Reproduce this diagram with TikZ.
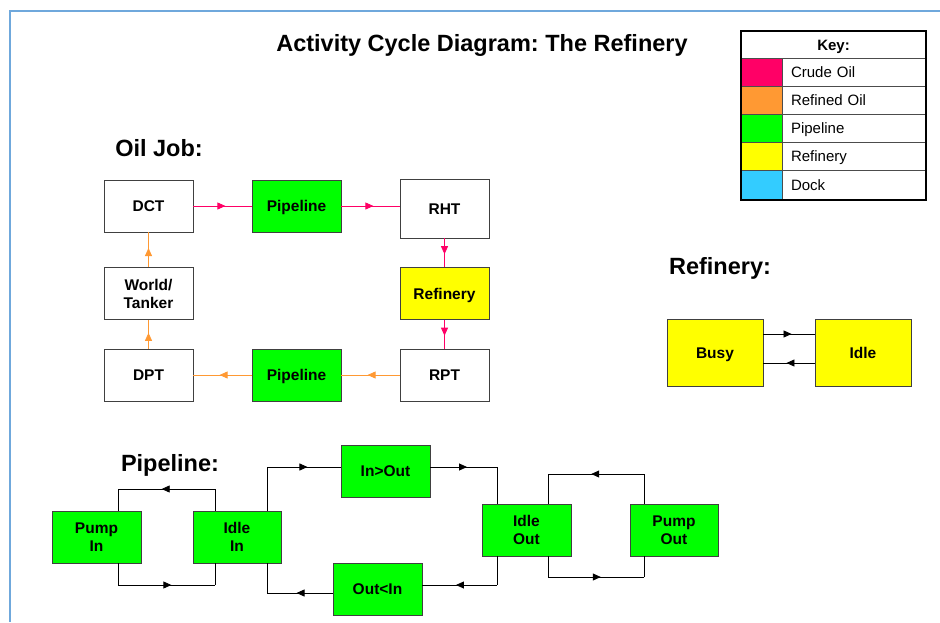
\documentclass[tikz,border=0pt]{standalone}
\usepackage{fontspec}
\setmainfont{Liberation Sans}
\frenchspacing
\usetikzlibrary{arrows.meta,decorations.markings}
\definecolor{crude}{HTML}{FF0066}
\definecolor{refined}{HTML}{FF9933}
\definecolor{pipe}{HTML}{00FF00}
\definecolor{refin}{HTML}{FFFF00}
\definecolor{dock}{HTML}{33CCFF}
\definecolor{frameblue}{HTML}{6FA8DC}
\tikzset{
  box/.style={draw=black!75, line width=0.8pt, font=\bfseries\fontsize{15.5}{18}\selectfont,
    align=center, inner sep=0pt, minimum width=89pt, minimum height=52pt},
  one/.style={text height=11pt, text depth=0pt},
  heading/.style={font=\bfseries\fontsize{23.5}{28}\selectfont, inner sep=0pt},
  conn/.style={line width=0.8pt},
  midarr/.style={postaction={decorate}, decoration={markings,
    mark=at position 0.55 with {\arrow{Triangle[length=8pt,width=7pt]}}}},
  swatch/.style={draw=black!70, line width=0.6pt, minimum width=41pt, minimum height=28pt, inner sep=0pt},
  keycell/.style={draw=black!70, line width=0.6pt, minimum height=28pt, text width=126pt,
    text height=11pt, text depth=0pt,
    inner xsep=9pt, inner ysep=0pt, align=left, font=\fontsize{15}{18}\selectfont},
}
\begin{document}
\begin{tikzpicture}[x=1pt,y=-1pt]
\useasboundingbox (0,0) rectangle (940,622);
% page frame
\coordinate (fr1) at (940,11);
\coordinate (fr2) at (10,11);
\coordinate (fr3) at (10,622);
\draw[frameblue, line width=1.5pt] (fr1) -- (fr2) -- (fr3);

% title and headings
\node[heading] (title) at (482,45) {Activity Cycle Diagram: The Refinery};
\node[heading] (hoil) at (159,148) {Oil Job:};
\node[heading] (href) at (720,268) {Refinery:};
\node[heading] (hpipe) at (170,465) {Pipeline:};

% key
\node[draw=black!70, line width=0.6pt, minimum width=185pt, minimum height=27pt, inner sep=0pt,
  text height=11pt, text depth=0pt,
  font=\bfseries\fontsize{15}{18}\selectfont] (khead) at (833.5,44.5) {Key:};
\node[swatch, fill=crude]   (s1) at (761.5,72)  {};
\node[swatch, fill=refined] (s2) at (761.5,100) {};
\node[swatch, fill=pipe]    (s3) at (761.5,128) {};
\node[swatch, fill=refin]   (s4) at (761.5,156) {};
\node[swatch, fill=dock, minimum height=30pt] (s5) at (761.5,185) {};
\node[keycell] (l1) at (854,72)  {Crude Oil};
\node[keycell] (l2) at (854,100) {Refined Oil};
\node[keycell] (l3) at (854,128) {Pipeline};
\node[keycell] (l4) at (854,156) {Refinery};
\node[keycell, minimum height=30pt] (l5) at (854,185) {Dock};
\node[draw=black, line width=2pt, minimum width=185pt, minimum height=169pt, inner sep=0pt] (keyframe) at (833.5,115.5) {};

% oil job
\node[box, one, fill=white] (dct)   at (148.5,206) {DCT};
\node[box, one, fill=pipe]  (pipe1) at (296.5,206) {Pipeline};
\node[box, one, fill=white, minimum height=59pt] (rht) at (444.5,208.5) {RHT};
\node[box, one, fill=refin] (refy)  at (444.5,293.5) {Refinery};
\node[box, one, fill=white] (rpt)   at (444.5,375) {RPT};
\node[box, one, fill=pipe]  (pipe2) at (296.5,375) {Pipeline};
\node[box, one, fill=white] (dpt)   at (148.5,375) {DPT};
\node[box, fill=white] (world) at (148.5,293.5) {World/\\Tanker};

\draw[conn, midarr, crude] (dct) -- (pipe1);
\draw[conn, midarr, crude] (pipe1.east) -- (pipe1.east -| rht.west);
\draw[conn, midarr, crude] (rht) -- (refy);
\draw[conn, midarr, crude] (refy) -- (rpt);
\draw[conn, midarr, refined] (rpt) -- (pipe2);
\draw[conn, midarr, refined] (pipe2) -- (dpt);
\draw[conn, midarr, refined] (dpt) -- (world);
\draw[conn, midarr, refined] (world) -- (dct);

% refinery
\node[box, one, fill=refin, minimum width=96pt, minimum height=67pt] (busy) at (715,352.5) {Busy};
\node[box, one, fill=refin, minimum width=96pt, minimum height=67pt] (idle) at (863,352.5) {Idle};
\draw[conn, midarr] ([yshift=18.5pt]busy.east) -- ([yshift=18.5pt]idle.west);
\draw[conn, midarr] ([yshift=-10.5pt]idle.west) -- ([yshift=-10.5pt]busy.east);

% pipeline
\node[box, fill=pipe] (pumpin)  at (96.5,537) {Pump\\In};
\node[box, fill=pipe, minimum width=88pt] (idlein) at (237,537) {Idle\\In};
\node[box, one, fill=pipe] (inout)   at (385.5,471) {In>Out};
\node[box, one, fill=pipe] (outin)   at (377.5,589) {Out<In};
\node[box, fill=pipe] (idleout) at (526.5,530) {Idle\\Out};
\node[box, fill=pipe, minimum width=88pt] (pumpout) at (674,530) {Pump\\Out};

% Idle In -> Pump In (top)
\coordinate (a1) at (215,489);
\coordinate (a2) at (118,489);
\draw[conn] ([xshift=-22pt]idlein.north) -- (a1);
\draw[conn, midarr] (a1) -- (a2);
\draw[conn] (a2) -- ([xshift=21.5pt]pumpin.north);
% Pump In -> Idle In (bottom)
\coordinate (b1) at (118,585);
\coordinate (b2) at (215,585);
\draw[conn] ([xshift=21.5pt]pumpin.south) -- (b1);
\draw[conn, midarr] (b1) -- (b2);
\draw[conn] (b2) -- ([xshift=-22pt]idlein.south);
% Idle In -> In>Out
\coordinate (c1) at (267,467);
\draw[conn] ([xshift=30pt]idlein.north) -- (c1);
\draw[conn, midarr] (c1) -- (c1 -| inout.west);
% In>Out -> Idle Out
\coordinate (d1) at (497,467);
\draw[conn, midarr] (d1 -| inout.east) -- (d1);
\draw[conn] (d1) -- ([xshift=-29.5pt]idleout.north);
% Idle Out -> Out<In
\coordinate (e1) at (497,585);
\draw[conn] ([xshift=-29.5pt]idleout.south) -- (e1);
\draw[conn, midarr] (e1) -- (e1 -| outin.east);
% Out<In -> Idle In
\coordinate (f1) at (267,593);
\draw[conn, midarr] (f1 -| outin.west) -- (f1);
\draw[conn] (f1) -- ([xshift=30pt]idlein.south);
% Pump Out -> Idle Out (top)
\coordinate (g1) at (644,474);
\coordinate (g2) at (548,474);
\draw[conn] ([xshift=-30pt]pumpout.north) -- (g1);
\draw[conn, midarr] (g1) -- (g2);
\draw[conn] (g2) -- ([xshift=21.5pt]idleout.north);
% Idle Out -> Pump Out (bottom)
\coordinate (h1) at (548,577);
\coordinate (h2) at (644,577);
\draw[conn] ([xshift=21.5pt]idleout.south) -- (h1);
\draw[conn, midarr] (h1) -- (h2);
\draw[conn] (h2) -- ([xshift=-30pt]pumpout.south);
\end{tikzpicture}
\end{document}
